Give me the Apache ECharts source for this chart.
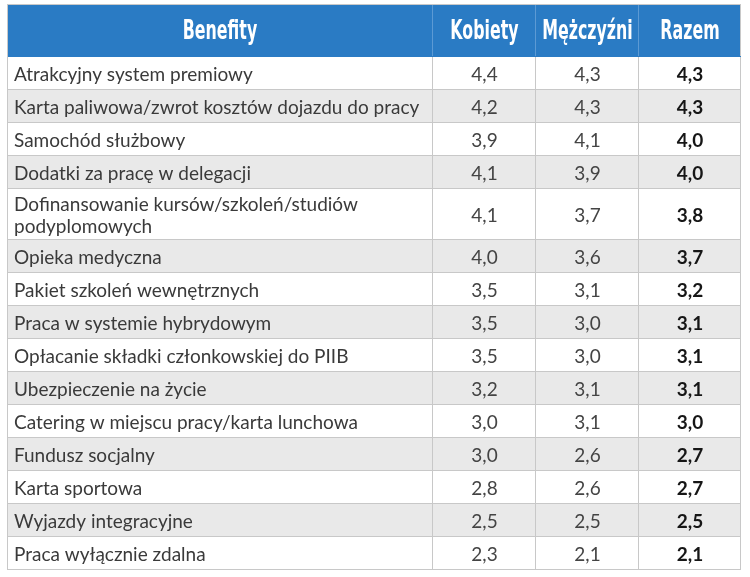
<!DOCTYPE html>
<html><head><meta charset="utf-8">
<script src="https://cdn.jsdelivr.net/npm/echarts@6/dist/echarts.min.js"></script>
<style>html,body{margin:0;padding:0;background:#fff}#c{width:750px;height:577px}</style>
</head><body><div id="c"></div>
<script>
const headers = ['Benefity', 'Kobiety', 'Mężczyźni', 'Razem'];
const benefits = [
  'Atrakcyjny system premiowy',
  'Karta paliwowa/zwrot kosztów dojazdu do pracy',
  'Samochód służbowy',
  'Dodatki za pracę w delegacji',
  'Dofinansowanie kursów/szkoleń/studiów\npodyplomowych',
  'Opieka medyczna',
  'Pakiet szkoleń wewnętrznych',
  'Praca w systemie hybrydowym',
  'Opłacanie składki członkowskiej do PIIB',
  'Ubezpieczenie na życie',
  'Catering w miejscu pracy/karta lunchowa',
  'Fundusz socjalny',
  'Karta sportowa',
  'Wyjazdy integracyjne',
  'Praca wyłącznie zdalna'
];
const kobiety   = [4.4, 4.2, 3.9, 4.1, 4.1, 4.0, 3.5, 3.5, 3.5, 3.2, 3.0, 3.0, 2.8, 2.5, 2.3];
const mezczyzni = [4.3, 4.3, 4.1, 3.9, 3.7, 3.6, 3.1, 3.0, 3.0, 3.1, 3.1, 2.6, 2.6, 2.5, 2.1];
const razem     = [4.3, 4.3, 4.0, 4.0, 3.8, 3.7, 3.2, 3.1, 3.1, 3.1, 3.0, 2.7, 2.7, 2.5, 2.1];

// layout
const colWidths = [426, 103, 103, 102];
const headerH = 53, rowH = 33, extraLineH = 18;
const fmt = v => v.toFixed(1).replace('.', ',');
const valueCols = [kobiety, mezczyzni, razem];

const colEdges = [0];
colWidths.forEach(w => colEdges.push(colEdges[colEdges.length - 1] + w));
const rowEdges = [0, headerH];
benefits.forEach(b => {
  const lines = b.split('\n').length;
  rowEdges.push(rowEdges[rowEdges.length - 1] + rowH + (lines - 1) * extraLineH);
});
const totalW = colEdges[colEdges.length - 1];
const totalH = rowEdges[rowEdges.length - 1];

const data = [];
for (let r = 0; r <= benefits.length; r++) {
  for (let c = 0; c < headers.length; c++) {
    data.push([colEdges[c], colEdges[c + 1], rowEdges[r], rowEdges[r + 1], r, c]);
  }
}

function cellText(r, c) {
  if (r === 0) return headers[c];
  if (c === 0) return benefits[r - 1];
  return fmt(valueCols[c - 1][r - 1]);
}

const BLUE = '#2a7bc4', GRAY = '#e9e9e9', LINE = '#c8c8c8', HLINE = '#5c9ad4';

function renderItem(params, api) {
  const x0 = api.value(0), x1 = api.value(1), y0 = api.value(2), y1 = api.value(3);
  const r = api.value(4), c = api.value(5);
  const a = api.coord([x0, y0]), b = api.coord([x1, y1]);
  const L = Math.round(a[0]), T = Math.round(a[1]), R = Math.round(b[0]), B = Math.round(b[1]);
  const children = [];
  const fill = r === 0 ? BLUE : (r % 2 === 0 ? GRAY : '#ffffff');
  children.push({ type: 'rect', shape: { x: L, y: T, width: R - L, height: B - T }, style: { fill: fill }, z2: 0 });
  const line = (x1_, y1_, x2_, y2_, col) => children.push({
    type: 'line', shape: { x1: x1_, y1: y1_, x2: x2_, y2: y2_ },
    style: { stroke: col, lineWidth: 1 }, z2: r === 0 ? 1 : 2
  });
  const isLastCol = c === headers.length - 1;
  line(R - 0.5, T, R - 0.5, B, (r === 0 && !isLastCol) ? HLINE : LINE);
  line(L, B - 0.5, R, B - 0.5, r === 0 ? BLUE : LINE);
  if (c === 0) line(L + 0.5, T, L + 0.5, B, LINE);
  if (r === 0) line(L, T + 0.5, R, T + 0.5, LINE);

  const txt = cellText(r, c);
  const cy = (T + B) / 2;
  if (r === 0) {
    children.push({
      type: 'text', x: (L + R) / 2, y: cy + 2, scaleX: 0.72, scaleY: 1.22, z2: 3,
      style: { text: txt, x: 0, y: 0, fill: '#ffffff', font: 'bold 22px "DejaVu Sans"', align: 'center', verticalAlign: 'middle' }
    });
  } else if (c === 0) {
    children.push({
      type: 'text', z2: 3,
      style: { text: txt, x: L + 7, y: cy + 1, fill: '#3a3a3a', font: '19px Lato', lineHeight: 22, align: 'left', verticalAlign: 'middle' }
    });
  } else {
    children.push({
      type: 'text', z2: 3,
      style: { text: txt, x: (L + R) / 2, y: cy + 1, fill: c === 3 ? '#161616' : '#444444', font: (c === 3 ? 'bold ' : '') + '19px Lato', align: 'center', verticalAlign: 'middle' }
    });
  }
  return { type: 'group', children: children };
}

const chart = echarts.init(document.getElementById('c'), null, { renderer: 'canvas' });
chart.setOption({
  animation: false,
  grid: { left: 7, top: 4, width: totalW, height: totalH },
  xAxis: { type: 'value', min: 0, max: totalW, show: false },
  yAxis: { type: 'value', min: 0, max: totalH, inverse: true, show: false },
  series: [{
    type: 'custom',
    renderItem: renderItem,
    encode: { x: [0, 1], y: [2, 3] },
    data: data,
    silent: true
  }]
});
</script></body></html>
